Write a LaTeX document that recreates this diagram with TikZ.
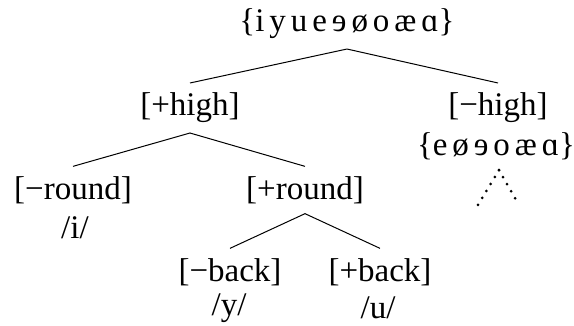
\documentclass[tikz,border=0pt]{standalone}
\usepackage{fontspec}
\setmainfont{Liberation Serif}
\begin{document}
\begin{tikzpicture}[x=1pt,y=1pt,
  lab/.style={inner sep=0pt, outer sep=0pt, font=\fontsize{33}{40}\selectfont},
  feat/.style={lab, inner ysep=10pt},
  branch/.style={line width=1pt},
  dots/.style={line width=3pt, line cap=round, dash pattern=on 0pt off 8.15pt}]
\useasboundingbox (0,0) rectangle (574,-325);
\newcommand{\gp}{\hspace{0.15em}}
\node[feat] (top) at (347,-24) {\{i\gp y\gp u\gp e\gp ɘ\gp ø\gp o\gp æ\gp ɑ\}};
\node[feat] (hp) at (190,-108) {[+high]};
\node[feat] (hm) at (498,-108) {[−high]};
\node[lab] (set2) at (496,-146) {\{e\gp ø\gp ɘ\gp o\gp æ\gp ɑ\}};
\node[feat] (rm) at (73,-190) {[−round]};
\node[feat] (rp) at (305,-190) {[+round]};
\node[lab] (pi) at (75,-228) {/i/};
\node[feat] (bm) at (230,-272) {[−back]};
\node[feat] (bp) at (380,-272) {[+back]};
\node[lab] (py) at (229,-308) {/y/};
\node[lab] (pu) at (378,-308) {/u/};
\coordinate (ta) at (499,-170);
\coordinate (tl) at (478,-205);
\coordinate (tr) at (519,-205);
\draw[branch] (hp.north) -- (top.south) -- (hm.north);
\draw[branch] (rm.north) -- (hp.south) -- (rp.north);
\draw[branch] (bm.north) -- (rp.south) -- (bp.north);
\draw[dots] (ta) -- (tl);
\draw[dots] (ta) -- (tr);
\end{tikzpicture}
\end{document}
